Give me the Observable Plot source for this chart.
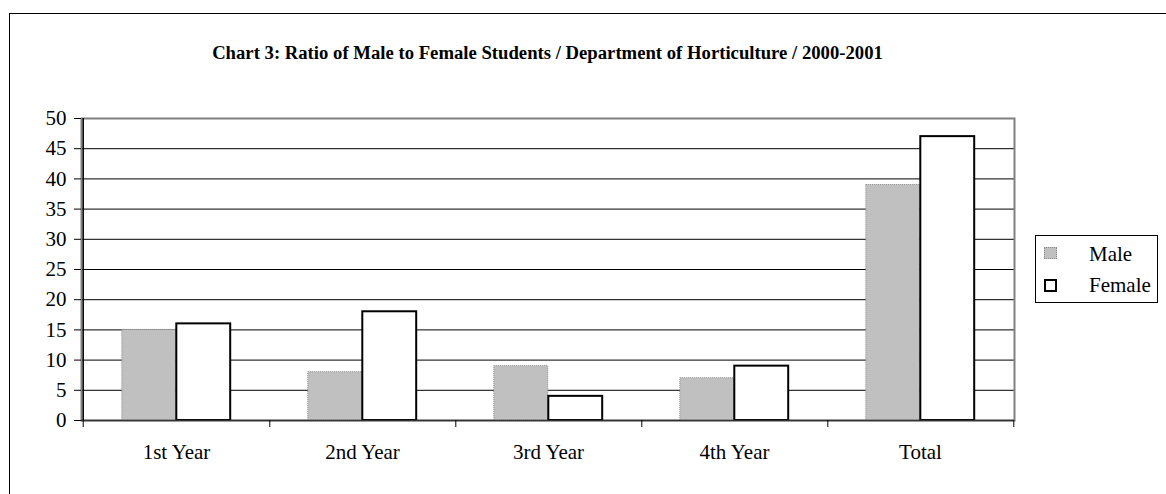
<!DOCTYPE html>
<html><head><meta charset="utf-8">
<script src="https://cdn.jsdelivr.net/npm/d3@7"></script>
<script src="https://cdn.jsdelivr.net/npm/@observablehq/plot@0.6"></script>
<style>
html,body{margin:0;padding:0;background:#fff;overflow:hidden}
#wrap{position:relative;width:1166px;height:494px;overflow:hidden;font-family:"Liberation Serif","Times New Roman",serif;color:#000}
#outer{position:absolute;left:9px;top:13px;width:1300px;height:600px;border-left:1.5px solid #000;border-top:1.5px solid #000;box-sizing:border-box}
#chart{position:absolute;left:0;top:0}
#chart svg text{font-family:"Liberation Serif","Times New Roman",serif !important;font-size:21px !important;fill:#000}
#title{position:absolute;left:81px;width:933px;top:43px;text-align:center;font-weight:bold;font-size:18.7px;line-height:20px;white-space:nowrap}
#legend{position:absolute;left:1035px;top:235px;width:123px;height:68px;border:1px solid #000;background:#fff;box-sizing:border-box;font-size:21px}
.sw{position:absolute;box-sizing:border-box}
.lt{position:absolute;left:53px;line-height:22px}
</style>
</head><body>
<div id="wrap">
  <div id="outer"></div>
  <div id="chart"></div>
  <div id="title"></div>
  <div id="legend"></div>
</div>
<script>
const titleText = "Chart 3: Ratio of Male to Female Students / Department of Horticulture / 2000-2001";
const categories = ["1st Year", "2nd Year", "3rd Year", "4th Year", "Total"];
const seriesNames = ["Male", "Female"];
const maleValues = [15, 8, 9, 7, 39];
const femaleValues = [16, 18, 4, 9, 47];
const yTicks = [0, 5, 10, 15, 20, 25, 30, 35, 40, 45, 50];

const male = categories.map((c, i) => ({category: c, series: seriesNames[0], value: maleValues[i]}));
const female = categories.map((c, i) => ({category: c, series: seriesNames[1], value: femaleValues[i]}));

const W = 1166, H = 494, mL = 81, mR = 152, mT = 118, mB = 74;
const bw = (W - mL - mR) / categories.length;
const barW = 54.5;
const outerInset = bw / 2 - barW;

const chart = Plot.plot({
  width: W, height: H,
  marginLeft: mL, marginRight: mR, marginTop: mT, marginBottom: mB,
  style: {fontFamily: "'Liberation Serif','Times New Roman',serif", fontSize: "21px", color: "#000", background: "transparent"},
  x: {type: "band", domain: categories, padding: 0},
  y: {domain: [yTicks[0], yTicks[yTicks.length - 1]]},
  marks: [
    Plot.ruleY(yTicks.filter(v => v > yTicks[0] && v < yTicks[yTicks.length - 1]), {stroke: "#000", strokeWidth: 1}),
    Plot.frame({stroke: "#808080", strokeWidth: 2}),
    Plot.barY(male, {x: "category", y: "value", fill: "#c0c0c0", stroke: "#8a8a8a", strokeWidth: 1, strokeDasharray: "1,1", insetLeft: outerInset, insetRight: bw / 2}),
    Plot.barY(female, {x: "category", y: "value", fill: "#fff", stroke: "#000", strokeWidth: 2, insetLeft: bw / 2, insetRight: outerInset}),
    Plot.ruleY([0], {stroke: "#333", strokeWidth: 1.5}),
    Plot.ruleX([categories[0]], {dx: -bw / 2, y1: yTicks[0], y2: yTicks[yTicks.length - 1], stroke: "#000", strokeWidth: 1.5}),
    Plot.axisY({ticks: yTicks, tickSize: 7, tickPadding: 8, fontSize: 21, label: null, stroke: "#000"}),
    Plot.axisX({tickSize: 7, text: null, dx: bw / 2, label: null, stroke: "#000"}),
    Plot.axisX({ticks: [categories[0]], tickSize: 7, text: null, dx: -bw / 2, label: null, stroke: "#000"}),
    Plot.axisX({tickSize: 0, tickPadding: 24, fontSize: 21, label: null})
  ]
});
document.getElementById("chart").appendChild(chart);
document.getElementById("title").textContent = titleText;

const legend = document.getElementById("legend");
legend.innerHTML =
  `<div class="sw" style="left:8px;top:11px;width:13px;height:12px;background:#c0c0c0;border:1px dotted #8a8a8a"></div>
   <div class="lt" style="top:7px">${seriesNames[0]}</div>
   <div class="sw" style="left:8px;top:43px;width:13px;height:13px;background:#fff;border:2px solid #000"></div>
   <div class="lt" style="top:38px">${seriesNames[1]}</div>`;
</script>
</body></html>
